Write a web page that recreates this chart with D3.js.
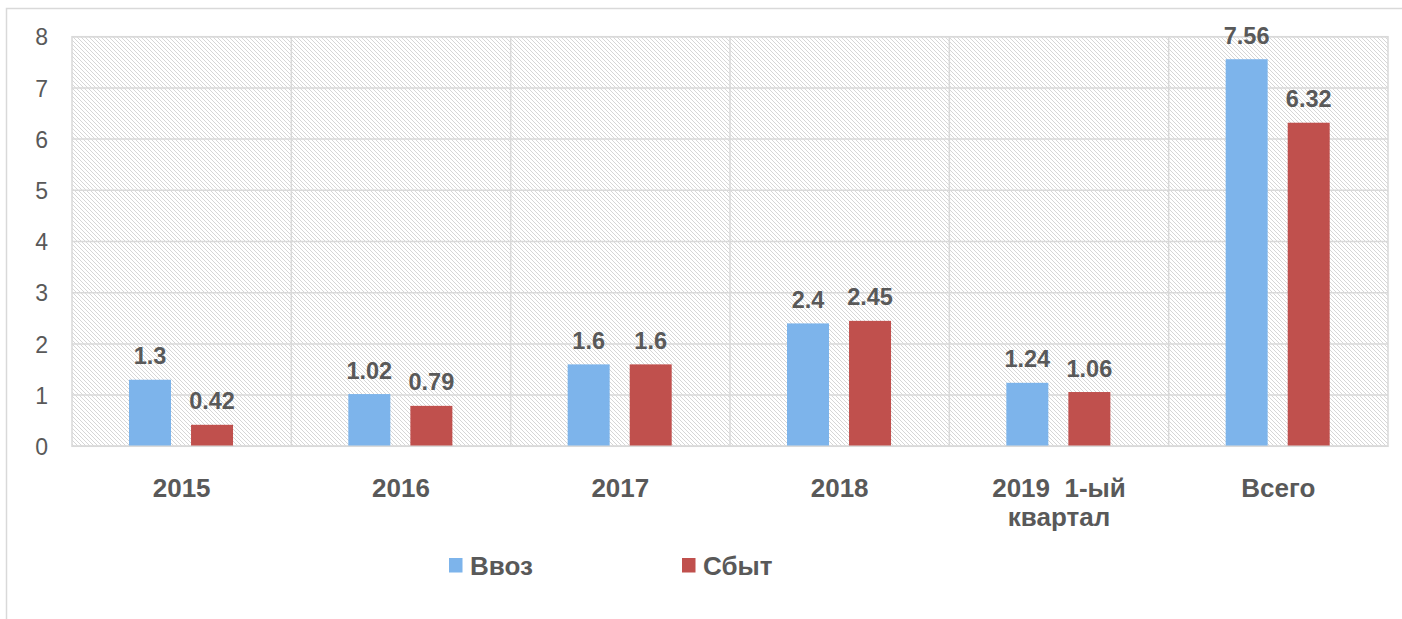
<!DOCTYPE html>
<html>
<head>
<meta charset="utf-8">
<script src="https://cdn.jsdelivr.net/npm/d3@7"></script>
<style>
  html, body { margin: 0; padding: 0; background: #fff; }
  svg { display: block; }
  text { font-family: "Liberation Sans", Arial, sans-serif; fill: #595959; }
</style>
</head>
<body>
<svg id="chart" width="1402" height="619"></svg>
<script>
const categories = ["2015", "2016", "2017", "2018", "2019  1-ый\nквартал", "Всего"];
const seriesNames = ["Ввоз", "Сбыт"];
const vvoz = [1.3, 1.02, 1.6, 2.4, 1.24, 7.56];
const sbyt = [0.42, 0.79, 1.6, 2.45, 1.06, 6.32];
const labelsVvoz = ["1.3", "1.02", "1.6", "2.4", "1.24", "7.56"];
const labelsSbyt = ["0.42", "0.79", "1.6", "2.45", "1.06", "6.32"];
const yTicks = [0, 1, 2, 3, 4, 5, 6, 7, 8];
const colors = ["#7DB4EB", "#C0504D"];

const svg = d3.select("#chart");
const plot = { left: 72, right: 1388, top: 36.7, bottom: 446.3 };

// outer border (left + top)
svg.append("rect")
  .attr("x", 6.5).attr("y", 8.5).attr("width", 1420).attr("height", 640)
  .attr("fill", "none").attr("stroke", "#d9d9d9").attr("stroke-width", 1.5);

// hatch pattern
const defs = svg.append("defs");
const pat = defs.append("pattern")
  .attr("id", "hatch").attr("patternUnits", "userSpaceOnUse")
  .attr("width", 4).attr("height", 4);
pat.append("rect").attr("width", 4).attr("height", 4).attr("fill", "#ffffff");
pat.append("path")
  .attr("d", "M-1,-1 L5,5 M-1,3 L1,5 M3,-1 L5,1")
  .attr("stroke", "#d6d6d6").attr("stroke-width", 1);

const x0 = d3.scaleBand().domain(categories).range([plot.left, plot.right]).padding(0);
const x1 = d3.scaleBand().domain(seriesNames)
  .range([57, x0.bandwidth() - 58.3]).paddingInner(0.323).paddingOuter(0);
const y = d3.scaleLinear().domain([0, 8]).range([plot.bottom, plot.top]);

// plot background
svg.append("rect")
  .attr("x", plot.left).attr("y", plot.top)
  .attr("width", plot.right - plot.left).attr("height", plot.bottom - plot.top)
  .attr("fill", "url(#hatch)").attr("stroke", "#d9d9d9").attr("stroke-width", 1.5);

// horizontal gridlines
svg.append("g").selectAll("line").data(yTicks).join("line")
  .attr("x1", plot.left).attr("x2", plot.right)
  .attr("y1", d => y(d)).attr("y2", d => y(d))
  .attr("stroke", "#d9d9d9").attr("stroke-width", 1.5);

// vertical gridlines at category boundaries
svg.append("g").selectAll("line").data(categories.slice(1)).join("line")
  .attr("x1", d => x0(d)).attr("x2", d => x0(d))
  .attr("y1", plot.top).attr("y2", plot.bottom)
  .attr("stroke", "#d9d9d9").attr("stroke-width", 1.5);

// y axis tick labels
const yAxis = d3.axisLeft(y).tickValues(yTicks).tickSize(0).tickPadding(0).tickFormat(d3.format("d"));
const gy = svg.append("g").attr("transform", `translate(${48},0)`).call(yAxis);
gy.select(".domain").remove();
gy.selectAll("text")
  .style("font-family", '"Liberation Sans", Arial, sans-serif')
  .style("font-size", "23px").attr("fill", "#595959").attr("dy", "0.36em");

// bars
const data = categories.map((c, i) => ({ cat: c, values: [
  { s: seriesNames[0], v: vvoz[i], label: labelsVvoz[i] },
  { s: seriesNames[1], v: sbyt[i], label: labelsSbyt[i] }
]}));

const groups = svg.append("g").selectAll("g").data(data).join("g")
  .attr("transform", d => `translate(${x0(d.cat)},0)`);

groups.selectAll("rect").data(d => d.values).join("rect")
  .attr("x", d => x1(d.s)).attr("width", x1.bandwidth())
  .attr("y", d => y(d.v)).attr("height", d => y(0) - y(d.v))
  .attr("fill", (d, i) => colors[i]);

groups.selectAll("text.val").data(d => d.values).join("text")
  .attr("class", "val")
  .attr("x", d => x1(d.s) + x1.bandwidth() / 2)
  .attr("y", d => y(d.v) - 15.5)
  .attr("text-anchor", "middle")
  .style("font-size", "23.5px").style("font-weight", "bold")
  .attr("fill", "#404040")
  .text(d => d.label);

// bottom axis line
svg.append("line")
  .attr("x1", plot.left).attr("x2", plot.right)
  .attr("y1", y(0)).attr("y2", y(0))
  .attr("stroke", "#d9d9d9").attr("stroke-width", 1.5);

// category labels
const catG = svg.append("g").selectAll("text").data(categories).join("text")
  .attr("x", d => x0(d) + x0.bandwidth() / 2)
  .attr("y", 497)
  .attr("text-anchor", "middle")
  .style("font-size", "26px").style("font-weight", "bold")
  .style("white-space", "pre")
  .attr("fill", "#595959");
catG.each(function(d) {
  const lines = d.split("\n");
  const t = d3.select(this);
  lines.forEach((ln, k) => {
    t.append("tspan")
      .attr("x", x0(d) + x0.bandwidth() / 2)
      .attr("dy", k === 0 ? 0 : 28.5)
      .text(ln);
  });
});

// legend
const legendX = [449, 682];
const leg = svg.append("g").selectAll("g").data(seriesNames).join("g")
  .attr("transform", (d, i) => `translate(${legendX[i]},558)`);
leg.append("rect").attr("width", 13.5).attr("height", 14.5)
  .attr("fill", (d, i) => colors[i]);
leg.append("text").attr("x", 21).attr("y", 16.5)
  .style("font-size", "26px").style("font-weight", "bold")
  .attr("fill", "#595959")
  .text(d => d);
</script>
</body>
</html>
